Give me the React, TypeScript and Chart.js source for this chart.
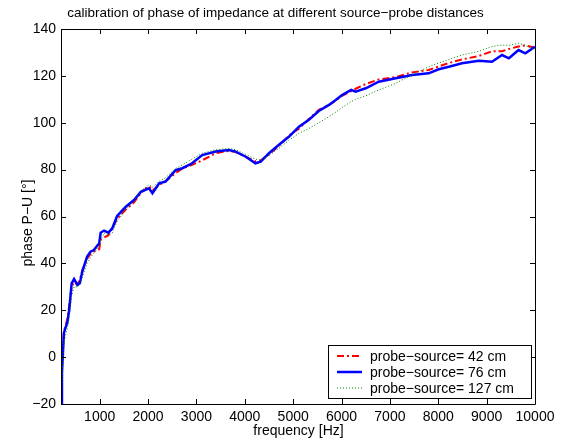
import React, { useEffect, useRef } from 'react';
import { Chart, registerables } from 'chart.js';

Chart.register(...registerables);

const freqHz = [
  200, 220, 240, 260, 300, 330, 370, 420, 470, 540, 590, 640, 740, 810, 880, 990,
  1020, 1090, 1180, 1260, 1360, 1540, 1710, 1850, 2020, 2090, 2230, 2360, 2570, 2710,
  2910, 3120, 3400, 3670, 3810, 4020, 4220, 4330, 4500, 4700, 4910, 5120, 5320, 5530,
  5740, 5880, 6010, 6200, 6290, 6500, 6770, 7120, 7460, 7800, 8010, 8220, 8490, 8840,
  9110, 9320, 9460, 9660, 9800, 10000,
];

const phase42 = [
  -18, -4, 3, 11, 14, 16, 22, 30, 32, 31, 33, 37, 42, 44, 45, 46,
  50, 51, 52, 55, 59, 63, 66, 70, 73, 71, 73.5, 75, 78.5, 80.5,
  82, 84, 87, 88, 87.5, 85.5, 83.5, 84, 86.5, 90, 94.5, 97.5, 101.5, 105.5,
  107.5, 109.5, 111.5, 113.5, 114.5, 116.5, 118.5, 119.5, 121.5, 122.5, 124, 125.5, 127, 128.5,
  130.5, 130.5, 131.5, 132.5, 133, 132,
];

const phase76 = [
  -20, -6.8, 1.8, 10.3, 13, 14.6, 20.1, 31.5, 33.3, 30.8, 31.5, 36.5, 42.9, 45, 45.7, 48.6,
  53.1, 54, 53.1, 55, 60.2, 64.2, 67, 70.5, 72, 69.9, 74.2, 74.9, 79.8, 80.6,
  82.7, 86.2, 87.7, 88.4, 87.7, 85.5, 82.7, 83.4, 87, 90.5, 94, 98.3, 101.2, 105,
  107.6, 109.7, 111.8, 114, 113.3, 114.7, 117.5, 119, 120.4, 121.1, 122.8, 123.9, 125.4, 126.5,
  126, 128.9, 127.5, 131, 129.6, 132.4,
];

const phase127 = [
  -20, -10, -2, 6, 10, 12, 17, 26, 30, 30, 31, 34, 40, 42.5, 44.5, 47,
  50, 53, 52, 53, 58, 63, 66.5, 71, 73.5, 72.5, 75, 76.5, 80.5, 82,
  84.5, 87, 88.5, 89, 88.5, 86.5, 84.5, 84, 86, 89, 92.5, 95.5, 97.5, 100,
  102.6, 104.5, 106.5, 109, 110, 111.5, 114, 116.8, 120.5, 123.9, 125.5, 127, 128.9, 130.5,
  132.5, 133.2, 133, 133.9, 133, 131,
];

const xTicks = [1000, 2000, 3000, 4000, 5000, 6000, 7000, 8000, 9000, 10000];
const yTicks = [-20, 0, 20, 40, 60, 80, 100, 120, 140];

const seriesLabels = [
  'probe\u2212source= 42 cm',
  'probe\u2212source= 76 cm',
  'probe\u2212source= 127 cm',
];

const titleText = 'calibration of phase of impedance at different source\u2212probe distances';
const xTitle = 'frequency [Hz]';
const yTitle = 'phase P\u2212U [\u00b0]';

const FONT = '"Liberation Sans", Arial, Helvetica, sans-serif';
const FS = 14;

const seriesStyles = [
  { color: '#ff0000', width: 2, dash: [7, 3, 2, 3] },
  { color: '#0000ff', width: 2.5, dash: [] as number[] },
  { color: '#008000', width: 1, dash: [1, 2] },
];

const toPts = (ys: number[]) => freqHz.map((f, i) => ({ x: f, y: ys[i] }));

const framePlugin = {
  id: 'matlabFrame',
  afterDraw(chart: any) {
    const { ctx, chartArea, scales } = chart;
    const { left, right, top, bottom } = chartArea;
    ctx.save();
    ctx.strokeStyle = '#000';
    ctx.lineWidth = 1;
    ctx.setLineDash([]);
    ctx.beginPath();
    ctx.rect(Math.round(left) + 0.5, Math.round(top) + 0.5, Math.round(right - left), Math.round(bottom - top));
    ctx.stroke();
    const tl = 5;
    ctx.beginPath();
    xTicks.forEach((v) => {
      const px = Math.round(scales.x.getPixelForValue(v)) + 0.5;
      ctx.moveTo(px, bottom);
      ctx.lineTo(px, bottom - tl);
      ctx.moveTo(px, top);
      ctx.lineTo(px, top + tl);
    });
    yTicks.forEach((v) => {
      const py = Math.round(scales.y.getPixelForValue(v)) + 0.5;
      ctx.moveTo(left, py);
      ctx.lineTo(left + tl, py);
      ctx.moveTo(right, py);
      ctx.lineTo(right - tl, py);
    });
    ctx.stroke();

    // titles
    ctx.fillStyle = '#000';
    ctx.font = `13.5px ${FONT}`;
    ctx.textAlign = 'center';
    ctx.textBaseline = 'middle';
    ctx.fillText(titleText, 275.5, 13);
    ctx.font = `${FS}px ${FONT}`;
    ctx.fillText(xTitle, 298.5, 431);
    ctx.save();
    ctx.translate(28, 223);
    ctx.rotate(-Math.PI / 2);
    ctx.fillText(yTitle, 0, 0);
    ctx.restore();

    // legend
    const lx = 328.5, ly = 345.5, lw = 203, lh = 53;
    ctx.fillStyle = '#fff';
    ctx.fillRect(lx, ly, lw, lh);
    ctx.strokeStyle = '#000';
    ctx.lineWidth = 1;
    ctx.strokeRect(lx, ly, lw, lh);
    const rows = [356, 372, 388];
    seriesLabels.forEach((lab, i) => {
      const st = seriesStyles[i];
      ctx.strokeStyle = st.color;
      ctx.lineWidth = st.width;
      ctx.setLineDash(st.dash);
      ctx.beginPath();
      ctx.moveTo(337, rows[i]);
      ctx.lineTo(362, rows[i]);
      ctx.stroke();
      ctx.setLineDash([]);
      ctx.fillStyle = '#000';
      ctx.textAlign = 'left';
      ctx.fillText(lab, 370, rows[i] + 1);
    });
    ctx.restore();
  },
};

export default function App() {
  const ref = useRef<HTMLCanvasElement | null>(null);
  useEffect(() => {
    if (!ref.current) return;
    const datasets = [phase42, phase76, phase127].map((ys, i) => ({
      label: seriesLabels[i],
      data: toPts(ys),
      borderColor: seriesStyles[i].color,
      borderWidth: seriesStyles[i].width,
      borderDash: seriesStyles[i].dash,
      pointRadius: 0,
      fill: false,
      tension: 0,
      order: 2 - i,
    }));
    const chart = new Chart(ref.current, {
      type: 'line',
      data: { datasets },
      options: {
        responsive: false,
        animation: false,
        events: [],
        layout: { padding: { left: 0, top: 29, right: 35, bottom: 0 } },
        plugins: { legend: { display: false }, title: { display: false }, tooltip: { enabled: false } },
        scales: {
          x: {
            type: 'linear',
            min: 200,
            max: 10000,
            grid: { display: false, drawTicks: false, tickLength: 0 },
            border: { display: false },
            afterBuildTicks: (s: any) => { s.ticks = xTicks.map((v) => ({ value: v })); },
            afterFit: (s: any) => { s.height = 42; },
            ticks: {
              color: '#000', font: { family: FONT, size: FS }, padding: 5, maxRotation: 0, autoSkip: false,
              callback: (v: any) => String(v),
            },
          },
          y: {
            type: 'linear',
            min: -20,
            max: 140,
            grid: { display: false, drawTicks: false, tickLength: 0 },
            border: { display: false },
            afterBuildTicks: (s: any) => { s.ticks = yTicks.map((v) => ({ value: v })); },
            afterFit: (s: any) => { s.width = 61; },
            ticks: {
              color: '#000', font: { family: FONT, size: FS }, padding: 5, autoSkip: false,
              callback: (v: any) => String(v).replace('-', '\u2212'),
            },
          },
        },
      },
      plugins: [framePlugin],
    });
    return () => chart.destroy();
  }, []);
  return (
    <div style={{ position: 'fixed', left: 0, top: 0, width: 570, height: 446, background: '#fff' }}>
      <canvas ref={ref} width={570} height={446} style={{ display: 'block', width: 570, height: 446 }} />
    </div>
  );
}
